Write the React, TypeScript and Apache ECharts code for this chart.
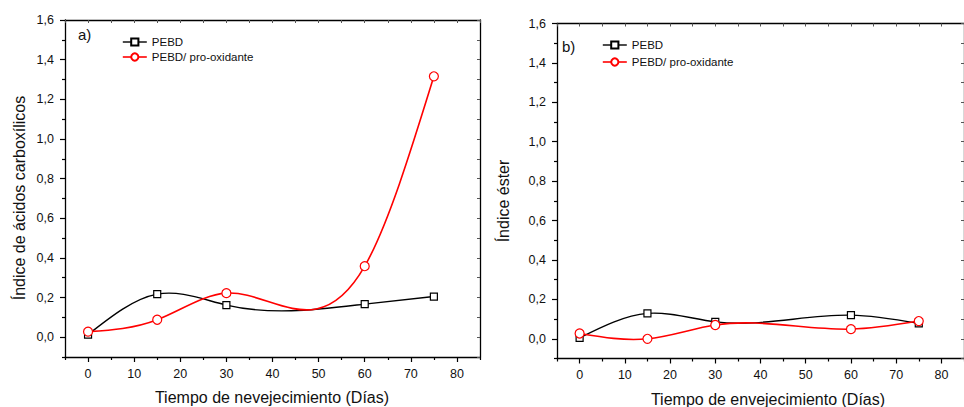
import React, { useEffect, useRef } from "react";
import * as echarts from "echarts";

const days = [0, 15, 30, 60, 75];
const carboxPEBD = [0.013, 0.217, 0.162, 0.167, 0.205];
const carboxProOx = [0.028, 0.088, 0.222, 0.358, 1.316];
const esterPEBD = [0.005, 0.129, 0.086, 0.12, 0.078];
const esterProOx = [0.027, 0.0, 0.07, 0.049, 0.09];

const xMajorTicks = [0, 10, 20, 30, 40, 50, 60, 70, 80];
const xMinorTicks = [-5, 5, 15, 25, 35, 45, 55, 65, 75, 85];
const yMajorTicks = [0, 0.2, 0.4, 0.6, 0.8, 1.0, 1.2, 1.4, 1.6];
const yMinorTicks = [-0.1, 0.1, 0.3, 0.5, 0.7, 0.9, 1.1, 1.3, 1.5];

const seriesNames = ["PEBD", "PEBD/ pro-oxidante"];
const yTitles = ["Índice de ácidos carboxílicos", "Índice éster"];
const xTitles = ["Tiempo de nevejecimiento (Días)", "Tiempo de envejecimiento (Días)"];
const panelLabels = ["a)", "b)"];

const FONT = "'Liberation Sans', Arial, Helvetica, sans-serif";
const AXIS_COLOR = "#000";
const BLACK = "#000";
const RED = "#ff0000";

const xAll = [...xMajorTicks, ...xMinorTicks].sort((a, b) => a - b);
const yAll = [...yMajorTicks, ...yMinorTicks].sort((a, b) => a - b);

// Natural cubic spline through (xs, ys) -> Bezier segments in data space
function splineSegments(xs: number[], ys: number[]) {
  const n = xs.length;
  const h: number[] = [];
  for (let i = 0; i < n - 1; i++) h.push(xs[i + 1] - xs[i]);
  const M = new Array(n).fill(0);
  if (n > 2) {
    const m = n - 2;
    const a: number[] = [], b: number[] = [], c: number[] = [], d: number[] = [];
    for (let k = 0; k < m; k++) {
      const i = k + 1;
      a.push(h[i - 1]);
      b.push(2 * (h[i - 1] + h[i]));
      c.push(h[i]);
      d.push(6 * ((ys[i + 1] - ys[i]) / h[i] - (ys[i] - ys[i - 1]) / h[i - 1]));
    }
    for (let k = 1; k < m; k++) {
      const w = a[k] / b[k - 1];
      b[k] -= w * c[k - 1];
      d[k] -= w * d[k - 1];
    }
    const sol = new Array(m).fill(0);
    sol[m - 1] = d[m - 1] / b[m - 1];
    for (let k = m - 2; k >= 0; k--) sol[k] = (d[k] - c[k] * sol[k + 1]) / b[k];
    for (let k = 0; k < m; k++) M[k + 1] = sol[k];
  }
  const segs = [];
  for (let i = 0; i < n - 1; i++) {
    const hi = h[i];
    const slope = (ys[i + 1] - ys[i]) / hi;
    const s0 = slope - (hi * (2 * M[i] + M[i + 1])) / 6;
    const s1 = slope + (hi * (M[i] + 2 * M[i + 1])) / 6;
    segs.push({
      p0: [xs[i], ys[i]],
      c1: [xs[i] + hi / 3, ys[i] + (s0 * hi) / 3],
      c2: [xs[i + 1] - hi / 3, ys[i + 1] - (s1 * hi) / 3],
      p1: [xs[i + 1], ys[i + 1]],
    });
  }
  return segs;
}

function buildX(gridIndex: number) {
  const line = { show: true, onZero: false, lineStyle: { color: AXIS_COLOR, width: 1.3 } };
  return [
    {
      gridIndex, type: "value", min: -5, max: 85, position: "bottom",
      axisLine: line,
      axisTick: { show: true, inside: false, length: 5, customValues: xMajorTicks, lineStyle: { color: AXIS_COLOR, width: 1.2 } },
      axisLabel: { show: true, customValues: xMajorTicks, margin: 10, fontSize: 12.5, color: "#111", fontFamily: FONT, formatter: (v: number) => String(v) },
      splitLine: { show: false },
    },
    {
      gridIndex, type: "value", min: -5, max: 85, position: "bottom",
      axisLine: { show: false, onZero: false },
      axisTick: { show: true, inside: false, length: 3, customValues: xMinorTicks, lineStyle: { color: AXIS_COLOR, width: 1.2 } },
      axisLabel: { show: false },
      splitLine: { show: false },
    },
    {
      gridIndex, type: "value", min: -5, max: 85, position: "top",
      axisLine: line,
      axisTick: { show: true, inside: true, length: 3, customValues: xAll, lineStyle: { color: "#555", width: 1 } },
      axisLabel: { show: false },
      splitLine: { show: false },
    },
  ];
}

function buildY(gridIndex: number) {
  const line = { show: true, onZero: false, lineStyle: { color: AXIS_COLOR, width: 1.3 } };
  return [
    {
      gridIndex, type: "value", min: -0.1, max: 1.6, position: "left",
      axisLine: line,
      axisTick: { show: true, inside: false, length: 5, customValues: yMajorTicks, lineStyle: { color: AXIS_COLOR, width: 1.2 } },
      axisLabel: { show: true, customValues: yMajorTicks, margin: 11, fontSize: 12.5, color: "#111", fontFamily: FONT, formatter: (v: number) => v.toFixed(1).replace(".", ",") },
      splitLine: { show: false },
    },
    {
      gridIndex, type: "value", min: -0.1, max: 1.6, position: "left",
      axisLine: { show: false, onZero: false },
      axisTick: { show: true, inside: false, length: 3, customValues: yMinorTicks, lineStyle: { color: AXIS_COLOR, width: 1.2 } },
      axisLabel: { show: false },
      splitLine: { show: false },
    },
    {
      gridIndex, type: "value", min: -0.1, max: 1.6, position: "right",
      axisLine: line,
      axisTick: { show: true, inside: true, length: 3, customValues: yAll, lineStyle: { color: "#555", width: 1 } },
      axisLabel: { show: false },
      splitLine: { show: false },
    },
  ];
}

function makeCurve(name: string, values: number[], axisIndex: number, red: boolean) {
  const segs = splineSegments(days, values);
  const color = red ? RED : BLACK;
  const width = red ? 1.6 : 1.4;
  return {
    type: "custom",
    name: name + " (curva)",
    xAxisIndex: axisIndex,
    yAxisIndex: axisIndex,
    data: days.map((d, i) => [d, values[i]]),
    encode: { x: 0, y: 1 },
    silent: true,
    z: 1,
    renderItem: (params: any, api: any) => {
      const seg = segs[params.dataIndex];
      if (!seg) return null;
      const p0 = api.coord(seg.p0);
      const c1 = api.coord(seg.c1);
      const c2 = api.coord(seg.c2);
      const p1 = api.coord(seg.p1);
      return {
        type: "bezierCurve",
        shape: { x1: p0[0], y1: p0[1], cpx1: c1[0], cpy1: c1[1], cpx2: c2[0], cpy2: c2[1], x2: p1[0], y2: p1[1] },
        style: { stroke: color, lineWidth: width, fill: null },
      };
    },
  };
}

function makeMarkers(name: string, values: number[], axisIndex: number, red: boolean) {
  return {
    type: "line",
    name,
    xAxisIndex: axisIndex,
    yAxisIndex: axisIndex,
    data: days.map((d, i) => [d, values[i]]),
    symbol: red ? "circle" : "rect",
    symbolSize: red ? 9 : 7,
    showAllSymbol: true,
    lineStyle: { color: red ? RED : BLACK, width: red ? 1.6 : 1.4, opacity: 0 },
    itemStyle: { color: "#fff", borderColor: red ? RED : BLACK, borderWidth: 1.2 },
    z: red ? 4 : 3,
  };
}

export default function App() {
  const ref = useRef<HTMLDivElement>(null);
  useEffect(() => {
    if (!ref.current) return;
    const chart = echarts.init(ref.current, null, { renderer: "svg" });
    const legendData = [
      { name: seriesNames[0], lineStyle: { color: BLACK, width: 1.4, opacity: 1 } },
      { name: seriesNames[1], lineStyle: { color: RED, width: 1.6, opacity: 1 } },
    ];
    const legendBase = {
      orient: "vertical",
      itemWidth: 24,
      itemHeight: 9,
      textStyle: { fontSize: 11.5, color: "#111", fontFamily: FONT },
      data: legendData,
      selectedMode: false,
    };
    chart.setOption({
      animation: false,
      backgroundColor: "#fff",
      grid: [
        { left: 65, top: 20, width: 415, height: 337, containLabel: false },
        { left: 557, top: 23.5, width: 415, height: 335, containLabel: false },
      ],
      xAxis: [...buildX(0), ...buildX(1)],
      yAxis: [...buildY(0), ...buildY(1)],
      legend: [
        { ...legendBase, left: 117, top: 31, itemGap: 3 },
        { ...legendBase, left: 597, top: 34, itemGap: 5 },
      ],
      series: [
        makeCurve(seriesNames[0], carboxPEBD, 0, false),
        makeCurve(seriesNames[1], carboxProOx, 0, true),
        makeCurve(seriesNames[0], esterPEBD, 3, false),
        makeCurve(seriesNames[1], esterProOx, 3, true),
        makeMarkers(seriesNames[0], carboxPEBD, 0, false),
        makeMarkers(seriesNames[1], carboxProOx, 0, true),
        makeMarkers(seriesNames[0], esterPEBD, 3, false),
        makeMarkers(seriesNames[1], esterProOx, 3, true),
      ],
      graphic: [
        { type: "text", x: 78, y: 34, style: { text: panelLabels[0], fontSize: 15, fontFamily: FONT, fill: "#111", textVerticalAlign: "middle" } },
        { type: "text", x: 562, y: 46, style: { text: panelLabels[1], fontSize: 15, fontFamily: FONT, fill: "#111", textVerticalAlign: "middle" } },
        { type: "text", x: 19, y: 198, rotation: Math.PI / 2, style: { text: yTitles[0], fontSize: 16, fontFamily: FONT, fill: "#111", textAlign: "center", textVerticalAlign: "middle" } },
        { type: "text", x: 503, y: 201, rotation: Math.PI / 2, style: { text: yTitles[1], fontSize: 16, fontFamily: FONT, fill: "#111", textAlign: "center", textVerticalAlign: "middle" } },
        { type: "text", x: 272, y: 397, style: { text: xTitles[0], fontSize: 16, fontFamily: FONT, fill: "#111", textAlign: "center", textVerticalAlign: "middle" } },
        { type: "text", x: 768, y: 399, style: { text: xTitles[1], fontSize: 16, fontFamily: FONT, fill: "#111", textAlign: "center", textVerticalAlign: "middle" } },
      ],
    });
    return () => chart.dispose();
  }, []);
  return (
    <div
      ref={ref}
      style={{ position: "fixed", left: 0, top: 0, width: 964, height: 407, background: "#fff" }}
    />
  );
}
